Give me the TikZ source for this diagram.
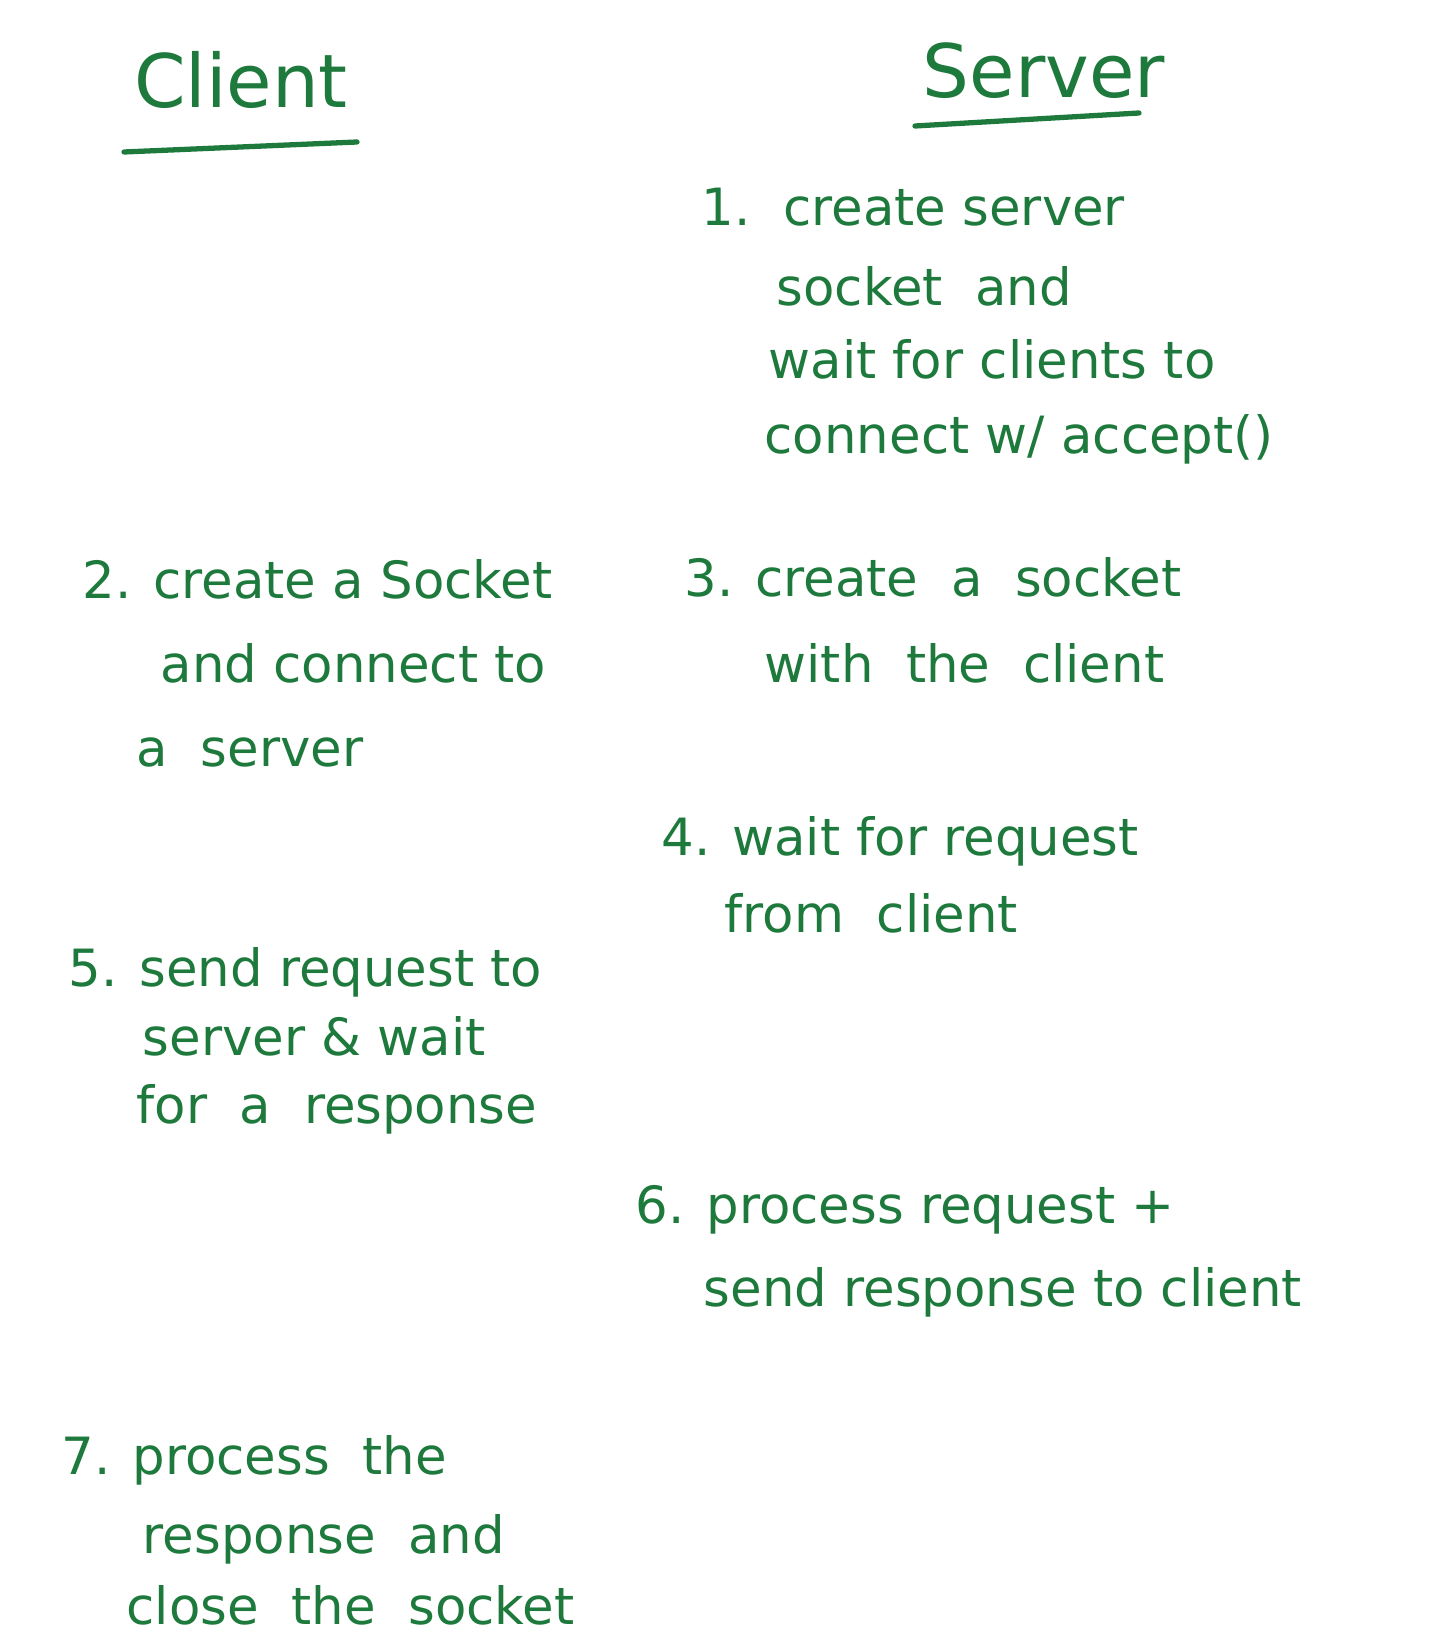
\documentclass[tikz,border=0pt]{standalone}
\usepackage{fontspec}
\setmainfont{DejaVu Sans}
\definecolor{ink}{HTML}{1E7A3C}
\begin{document}
\begin{tikzpicture}[x=0.01cm,y=-0.01cm,
  ink/.style={text=ink,inner sep=0pt},
  heading/.style={ink,anchor=base,font=\fontsize{21}{25}\selectfont},
  line/.style={ink,anchor=base west,font=\fontsize{14.6}{17}\selectfont},
  rule/.style={draw=ink,line width=1.5pt,line cap=round}]
\useasboundingbox[fill=white] (0,0) rectangle (1444,1646);

% column headings with underlines
\node[heading] (client) at (241,108) {Client};
\node[heading] (server) at (1044,98) {Server};
\coordinate (cu1) at (124,152); \coordinate (cu2) at (357,142);
\coordinate (su1) at (915,126); \coordinate (su2) at (1139,113);
\draw[rule] (cu1) -- (cu2);
\draw[rule] (su1) -- (su2);

% step 1 (server)
\node[line] (s1a) at (701,226) {1.\ \ create server};
\node[line] (s1b) at (776,306) {socket \ and};
\node[line] (s1c) at (768,378) {wait for clients to};
\node[line] (s1d) at (764,453) {connect w/ accept()};

% step 2 (client)
\node[line] (s2a) at (82,598) {2. create a Socket};
\node[line] (s2b) at (160,682) {and connect to};
\node[line] (s2c) at (136,766) {a \ server};

% step 3 (server)
\node[line] (s3a) at (684,596) {3. create \ a \ socket};
\node[line] (s3b) at (764,682) {with \ the \ client};

% step 4 (server)
\node[line] (s4a) at (661,855) {4. wait for request};
\node[line] (s4b) at (724,932) {from \ client};

% step 5 (client)
\node[line] (s5a) at (68,986) {5. send request to};
\node[line] (s5b) at (142,1055) {server \& wait};
\node[line] (s5c) at (136,1123) {for \ a \ response};

% step 6 (server)
\node[line] (s6a) at (635,1223) {6. process request +};
\node[line] (s6b) at (703,1306) {send response to client};

% step 7 (client)
\node[line] (s7a) at (61,1474) {7. process \ the};
\node[line] (s7b) at (142,1553) {response \ and};
\node[line] (s7c) at (126,1624) {close \ the \ socket};
\end{tikzpicture}
\end{document}
